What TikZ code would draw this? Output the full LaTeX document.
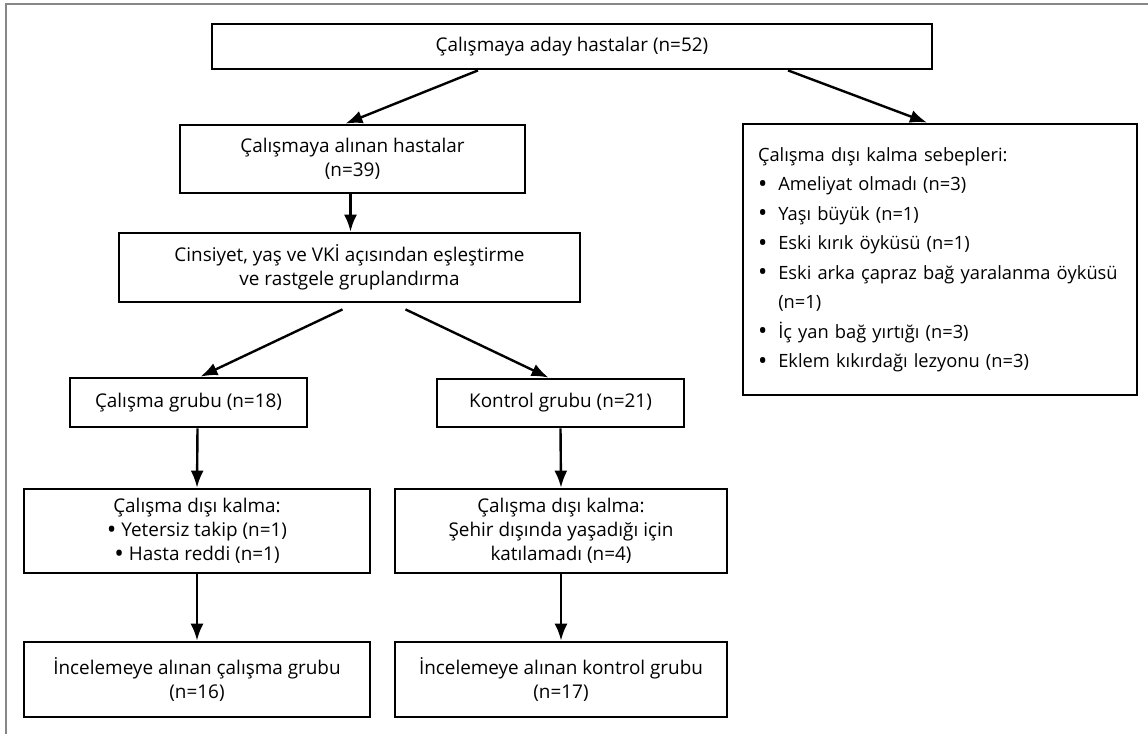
\documentclass[tikz,border=0pt]{standalone}
\usepackage{fontspec}
\setmainfont{Open Sans}
\usetikzlibrary{arrows.meta}
\definecolor{cFrame}{RGB}{135, 135, 135}
\newcommand{\blt}{\raisebox{-0.1em}{\scalebox{1.35}{\textbullet}}}
\tikzset{
  B/.style     = {draw, line width=2.8pt, align=center, inner sep=0pt,
                  font=\fontsize{18.9}{24}\selectfont},
  listB/.style = {B, align=left, text width=364pt, inner xsep=15pt,
                  font=\fontsize{18.3}{29.5}\selectfont},
  A/.style     = {-{Latex[length=17pt,width=13pt]}, line width=2.4pt},
}

\begin{document}
\begin{tikzpicture}[x=1pt, y=-1pt]
\useasboundingbox (0,0) rectangle (1148,734);

%% ─── outer frame ────────────────────────────────────────────
\draw[cFrame, line width=1.5pt] (6,734) -- (6,4) -- (1148,4);

%% ─── top part ───────────────────────────────────────────────
\node[B, minimum width=720pt, minimum height=45pt] (T) at (572,46.5)
  {Çalışmaya aday hastalar (n=52)};
\node[B, minimum width=345pt, minimum height=68pt] (IN) at (352.5,159)
  {Çalışmaya alınan hastalar\\(n=39)};
\node[B, minimum width=461pt, minimum height=69pt] (MT) at (349.5,267.5)
  {Cinsiyet, yaş ve VKİ açısından eşleştirme\\ve rastgele gruplandırma};

%% exclusion reasons
\node[listB, minimum height=271pt] (EX) at (940,259.5)
  {Çalışma dışı kalma sebepleri:\\
   \blt\hspace{11pt}Ameliyat olmadı (n=3)\\
   \blt\hspace{11pt}Yaşı büyük (n=1)\\
   \blt\hspace{11pt}Eski kırık öyküsü (n=1)\\
   \blt\hspace{11pt}Eski arka çapraz bağ yaralanma öyküsü\\
   \hphantom{\blt}\hspace{11pt}(n=1)\\
   \blt\hspace{11pt}İç yan bağ yırtığı (n=3)\\
   \blt\hspace{11pt}Eklem kıkırdağı lezyonu (n=3)};

\draw[A] ([xshift=-94pt]T.south) -- ([xshift=-7pt]IN.north);
\draw[A] ([xshift=216pt]T.south) -- ([xshift=-13pt]EX.north);
\draw[A] ([xshift=-2pt]IN.south) -- ([xshift=1pt]MT.north);

%% ─── groups ─────────────────────────────────────────────────
\node[B, minimum width=237pt, minimum height=49pt] (GS) at (188.5,402.5)
  {Çalışma grubu (n=18)};
\node[B, minimum width=247pt, minimum height=48pt] (GK) at (560.5,403)
  {Kontrol grubu (n=21)};

\draw[A] ([xshift=-7pt,yshift=-6pt]MT.south) -- ([xshift=12pt]GS.north);
\draw[A] ([xshift=56pt,yshift=-6pt]MT.south) -- ([xshift=-12pt]GK.north);

%% dropouts
\node[B, minimum width=346pt, minimum height=84pt] (DS) at (197,531)
  {Çalışma dışı kalma:\\\blt\ Yetersiz takip (n=1)\\\blt\ Hasta reddi (n=1)};
\node[B, minimum width=332pt, minimum height=84pt] (DK) at (561,531)
  {Çalışma dışı kalma:\\Şehir dışında yaşadığı için\\katılamadı (n=4)};

\draw[A] ([xshift=9pt]GS.south) -- (DS.north);
\draw[A] (GK.south) -- (DK.north);

%% analysed
\node[B, minimum width=346pt, minimum height=75pt] (FS) at (197,679.5)
  {İncelemeye alınan çalışma grubu\\(n=16)};
\node[B, minimum width=332pt, minimum height=75pt] (FK) at (561,679.5)
  {İncelemeye alınan kontrol grubu\\(n=17)};

\draw[A] (DS.south) -- (FS.north);
\draw[A] (DK.south) -- (FK.north);

\end{tikzpicture}
\end{document}
